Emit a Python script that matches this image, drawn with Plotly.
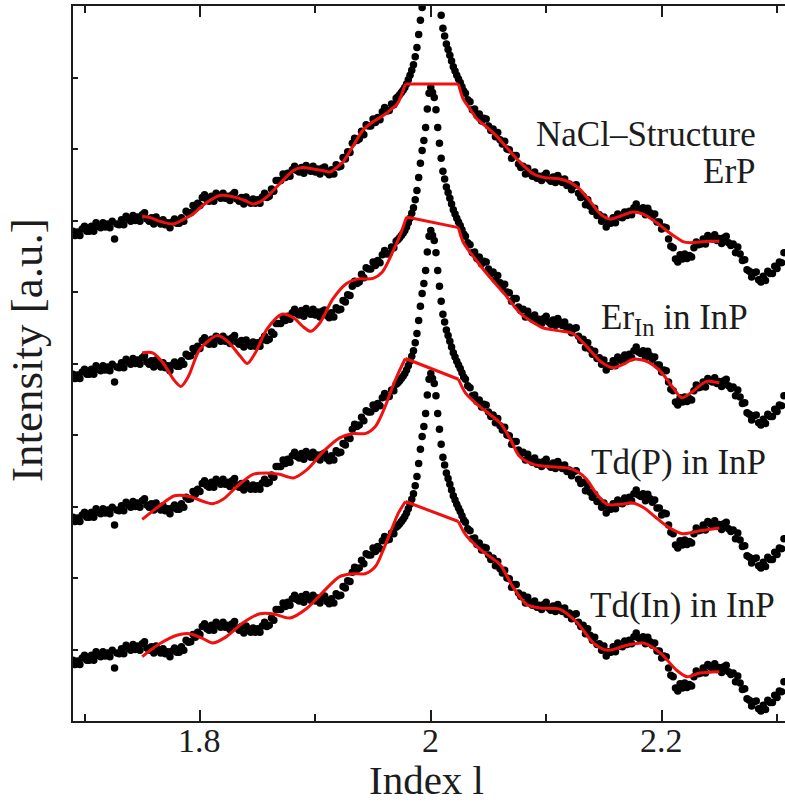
import numpy as np
import plotly.graph_objects as go

# ---- measured scan along l (same data set drawn under every model) ----
# 0.002 steps on the flanks, 0.0015 steps across the Bragg peak
scan_segments = [(1.690, 0.002, 141), (1.9715, 0.0015, 39), (2.030, 0.002, 139)]
index_l = np.concatenate([np.round(s + d * np.arange(n), 4) for s, d, n in scan_segments])

intensity = [
    # l = 1.690 ... 1.970
    0.85, 0.79, 0.84, 0.79, 0.88, 0.92, 0.85, 0.85, 0.92, 0.85,
    0.97, 0.92, 0.90, 0.97, 0.91, 0.95, 0.90, 0.99, 0.74, 0.95,
    0.94, 1.01, 0.94, 1.06, 1.02, 0.99, 1.07, 1.00, 1.05, 0.99,
    1.08, 1.11, 1.02, 0.99, 1.04, 0.95, 1.05, 0.99, 0.95, 1.01,
    0.94, 0.97, 0.90, 0.98, 1.02, 0.96, 0.96, 1.04, 0.99, 1.13,
    1.10, 1.11, 1.21, 1.17, 1.24, 1.21, 1.32, 1.36, 1.29, 1.27,
    1.34, 1.27, 1.38, 1.34, 1.31, 1.38, 1.31, 1.34, 1.28, 1.36,
    1.39, 1.30, 1.27, 1.32, 1.23, 1.33, 1.28, 1.24, 1.30, 1.24,
    1.29, 1.24, 1.33, 1.38, 1.32, 1.34, 1.44, 1.41, 1.56, 1.56,
    1.56, 1.65, 1.60, 1.66, 1.62, 1.71, 1.76, 1.70, 1.68, 1.74,
    1.66, 1.77, 1.72, 1.69, 1.76, 1.68, 1.72, 1.65, 1.73, 1.75,
    1.67, 1.64, 1.71, 1.65, 1.78, 1.75, 1.76, 1.88, 1.86, 1.96,
    1.95, 2.08, 2.15, 2.12, 2.14, 2.25, 2.20, 2.34, 2.32, 2.32,
    2.42, 2.37, 2.44, 2.41, 2.52, 2.58, 2.53, 2.54, 2.63, 2.62,
    2.71,
    # l = 1.9715 ... 2.0285
    2.73, 2.76, 2.79, 2.82, 2.86, 2.91, 2.97, 3.03, 3.10, 3.18,
    3.29, 3.42, 3.60, 3.80, 3.98, 4.12, 4.30, 4.56, 4.78, 4.86,
    4.79, 4.72, 4.55, 4.30, 4.08, 3.87, 3.69, 3.58, 3.47, 3.39,
    3.31, 3.23, 3.15, 3.09, 3.03, 2.98, 2.93, 2.87, 2.81,
    # l = 2.030 ... 2.306
    2.78, 2.69, 2.66, 2.55, 2.56, 2.47, 2.49, 2.39, 2.43, 2.42,
    2.32, 2.26, 2.28, 2.17, 2.23, 2.13, 2.07, 2.11, 2.00, 1.99,
    1.87, 1.91, 1.91, 1.79, 1.74, 1.76, 1.65, 1.73, 1.66, 1.62,
    1.68, 1.59, 1.62, 1.56, 1.63, 1.66, 1.58, 1.55, 1.61, 1.53,
    1.63, 1.58, 1.53, 1.58, 1.49, 1.51, 1.43, 1.49, 1.50, 1.38,
    1.32, 1.34, 1.22, 1.29, 1.20, 1.13, 1.17, 1.07, 1.08, 0.99,
    1.05, 0.91, 0.97, 0.96, 1.04, 0.97, 1.09, 1.05, 1.04, 1.12,
    1.07, 1.13, 1.08, 1.18, 1.23, 1.16, 1.14, 1.18, 1.08, 1.17,
    1.11, 1.06, 1.09, 0.98, 0.98, 0.88, 0.91, 0.90, 0.74, 0.64,
    0.62, 0.46, 0.42, 0.52, 0.46, 0.53, 0.47, 0.51, 0.49, 0.62,
    0.70, 0.66, 0.67, 0.74, 0.67, 0.79, 0.76, 0.74, 0.80, 0.72,
    0.75, 0.68, 0.76, 0.78, 0.69, 0.65, 0.67, 0.55, 0.63, 0.53,
    0.44, 0.45, 0.31, 0.29, 0.21, 0.27, 0.28, 0.17, 0.14, 0.22,
    0.16, 0.29, 0.26, 0.26, 0.36, 0.33, 0.42, 0.41, 0.55,
]

# ---- model curves (left flank ends / right flank starts at the peak cut) ----
nacl_left_x = [1.750, 1.757, 1.765, 1.777, 1.785, 1.794, 1.804, 1.817, 1.829, 1.839,
               1.846, 1.852, 1.858, 1.869, 1.881, 1.889, 1.898, 1.906, 1.913, 1.919,
               1.924, 1.933, 1.941, 1.950, 1.959, 1.966, 1.971, 1.978]
nacl_left_y = [1.06, 1.04, 0.99, 0.95, 1.01, 1.09, 1.23, 1.35, 1.33, 1.28,
               1.23, 1.26, 1.33, 1.51, 1.70, 1.74, 1.72, 1.70, 1.68, 1.75,
               1.82, 2.05, 2.26, 2.38, 2.47, 2.56, 2.63, 2.91]
nacl_right_x = [2.024, 2.028, 2.034, 2.040, 2.049, 2.057, 2.069, 2.077, 2.089, 2.099,
                2.112, 2.121, 2.129, 2.138, 2.147, 2.155, 2.164, 2.175, 2.184, 2.194,
                2.205, 2.212, 2.219, 2.225, 2.233, 2.242, 2.250]
nacl_right_y = [2.91, 2.70, 2.56, 2.42, 2.30, 2.18, 1.96, 1.82, 1.65, 1.60,
                1.58, 1.53, 1.44, 1.27, 1.09, 1.02, 1.06, 1.12, 1.09, 0.99,
                0.85, 0.77, 0.70, 0.69, 0.70, 0.71, 0.71]

erin_left_x = [1.750, 1.759, 1.768, 1.777, 1.7835, 1.790, 1.800, 1.815, 1.824, 1.835,
               1.841, 1.848, 1.858, 1.871, 1.881, 1.889, 1.896, 1.904, 1.915, 1.927,
               1.936, 1.950, 1.958, 1.967, 1.973, 1.979]
erin_left_y = [1.15, 1.15, 1.01, 0.78, 0.68, 0.82, 1.20, 1.39, 1.31, 1.10,
               1.00, 1.15, 1.48, 1.69, 1.64, 1.52, 1.45, 1.57, 1.90, 2.12,
               2.18, 2.19, 2.28, 2.56, 2.78, 3.05]
erin_right_x = [2.024, 2.028, 2.040, 2.051, 2.064, 2.077, 2.089, 2.097, 2.110, 2.123,
                2.135, 2.147, 2.158, 2.167, 2.175, 2.187, 2.199, 2.210, 2.2175, 2.227,
                2.239, 2.250]
erin_right_y = [2.90, 2.70, 2.43, 2.21, 1.97, 1.71, 1.57, 1.50, 1.46, 1.42,
                1.24, 1.03, 0.94, 0.99, 1.06, 1.03, 0.89, 0.66, 0.52, 0.61,
                0.75, 0.73]

tdp_left_x = [1.750, 1.765, 1.778, 1.791, 1.803, 1.811, 1.820, 1.832, 1.846, 1.858,
              1.869, 1.881, 1.893, 1.907, 1.921, 1.933, 1.943, 1.952, 1.960, 1.967,
              1.972, 1.978]
tdp_left_y = [0.82, 1.01, 1.15, 1.14, 1.07, 1.04, 1.10, 1.28, 1.45, 1.47,
              1.45, 1.40, 1.52, 1.77, 1.96, 2.02, 2.02, 2.12, 2.38, 2.68,
              2.87, 3.07]
tdp_right_x = [2.024, 2.030, 2.040, 2.051, 2.060, 2.069, 2.077, 2.089, 2.101, 2.118,
               2.127, 2.135, 2.144, 2.153, 2.164, 2.175, 2.185, 2.194, 2.205, 2.218,
               2.233, 2.250]
tdp_right_y = [2.78, 2.59, 2.43, 2.29, 2.17, 1.94, 1.70, 1.59, 1.56, 1.54,
               1.49, 1.38, 1.17, 1.03, 1.03, 1.05, 0.98, 0.86, 0.72, 0.62,
               0.66, 0.70]

tdin_left_x = [1.750, 1.765, 1.780, 1.791, 1.803, 1.811, 1.823, 1.837, 1.852, 1.863,
               1.878, 1.893, 1.907, 1.921, 1.933, 1.943, 1.952, 1.960, 1.967, 1.972,
               1.978]
tdin_left_y = [0.90, 1.08, 1.20, 1.22, 1.15, 1.09, 1.18, 1.37, 1.50, 1.50,
               1.44, 1.58, 1.81, 2.02, 2.06, 2.06, 2.16, 2.44, 2.72, 2.91,
               3.07]
tdin_right_x = [2.024, 2.030, 2.040, 2.051, 2.060, 2.071, 2.083, 2.095, 2.112, 2.127,
                2.141, 2.153, 2.170, 2.184, 2.199, 2.213, 2.222, 2.233, 2.250]
tdin_right_y = [2.79, 2.61, 2.44, 2.30, 2.19, 1.88, 1.63, 1.58, 1.56, 1.37,
                1.09, 0.99, 1.06, 1.09, 0.95, 0.71, 0.62, 0.67, 0.69]

# vertical shift applied to each model (in tick units)
model_offsets = [6, 4, 2, 0]
model_fits = [
    (nacl_left_x, nacl_left_y, nacl_right_x, nacl_right_y),
    (erin_left_x, erin_left_y, erin_right_x, erin_right_y),
    (tdp_left_x, tdp_left_y, tdp_right_x, tdp_right_y),
    (tdin_left_x, tdin_left_y, tdin_right_x, tdin_right_y),
]

x_tick_values = [1.8, 2.0, 2.2]
x_tick_text = ["1.8", "2", "2.2"]

INK = "#1c1c1c"
FIT_RED = "#f01010"
SERIF = "Liberation Serif"

fig = go.Figure()
data = np.array(intensity)

for off in model_offsets:
    fig.add_trace(go.Scatter(
        x=index_l, y=data + off, mode="markers",
        marker=dict(color="black", size=7.5, line=dict(width=0)),
        hoverinfo="skip"))

for off, (lx, ly, rx, ry) in zip(model_offsets, model_fits):
    line = dict(color=FIT_RED, width=3)
    fig.add_trace(go.Scatter(x=lx, y=np.array(ly) + off, mode="lines",
                             line=dict(line, shape="spline", smoothing=0.8)))
    fig.add_trace(go.Scatter(x=[lx[-1], rx[0]], y=[ly[-1] + off, ry[0] + off],
                             mode="lines", line=line))
    fig.add_trace(go.Scatter(x=rx, y=np.array(ry) + off, mode="lines",
                             line=dict(line, shape="spline", smoothing=0.8)))

labels = [
    ("NaCl\u2013Structure", 2.2835, 8.20),
    ("ErP", 2.2835, 7.69),
    ("Er<sub>In</sub> in InP", 2.2766, 5.61),
    ("Td(P) in InP", 2.2922, 3.61),
    ("Td(In) in InP", 2.300, 1.62),
]
annotations = [
    dict(text=t, x=x, y=y, xref="x", yref="y", xanchor="right", yanchor="middle",
         showarrow=False, font=dict(family=SERIF, size=35, color=INK))
    for t, x, y in labels
]
# x tick labels placed just under the axis line
for v, t in zip(x_tick_values, x_tick_text):
    annotations.append(dict(text=t, x=v, y=-0.0275, xref="x", yref="paper",
                            xanchor="center", yanchor="middle", showarrow=False,
                            font=dict(family=SERIF, size=34, color=INK)))
annotations.append(dict(text="Index l", x=(426 - 73) / 712, y=-0.082,
                        xref="paper", yref="paper", xanchor="center", yanchor="middle",
                        showarrow=False, font=dict(family=SERIF, size=41, color=INK)))
annotations.append(dict(text="Intensity [a.u.]", x=-0.0646, y=0.519, textangle=-90,
                        xref="paper", yref="paper", xanchor="center", yanchor="middle",
                        showarrow=False, font=dict(family=SERIF, size=45, color=INK)))

fig.update_layout(
    width=785, height=802,
    margin=dict(l=73, r=0, t=6, b=81),
    paper_bgcolor="white", plot_bgcolor="white",
    showlegend=False,
    annotations=annotations,
    xaxis=dict(
        range=[1.69, 2.3069],
        tickmode="array", tickvals=x_tick_values, showticklabels=False,
        ticks="inside", ticklen=11, tickwidth=2, tickcolor=INK,
        minor=dict(tickvals=[1.7, 1.9, 2.1, 2.3], ticks="inside", ticklen=7,
                   tickwidth=1.5, tickcolor=INK, showgrid=False),
        showline=True, linewidth=2, linecolor=INK, mirror="ticks",
        showgrid=False, zeroline=False,
    ),
    yaxis=dict(
        range=[0, 10],
        tickmode="array", tickvals=list(range(1, 10)),
        ticks="inside", ticklen=5, tickwidth=1.5, tickcolor=INK,
        showticklabels=False,
        showline=True, linewidth=2, linecolor=INK,
        showgrid=False, zeroline=False,
    ),
)

fig.write_html("out.html")
